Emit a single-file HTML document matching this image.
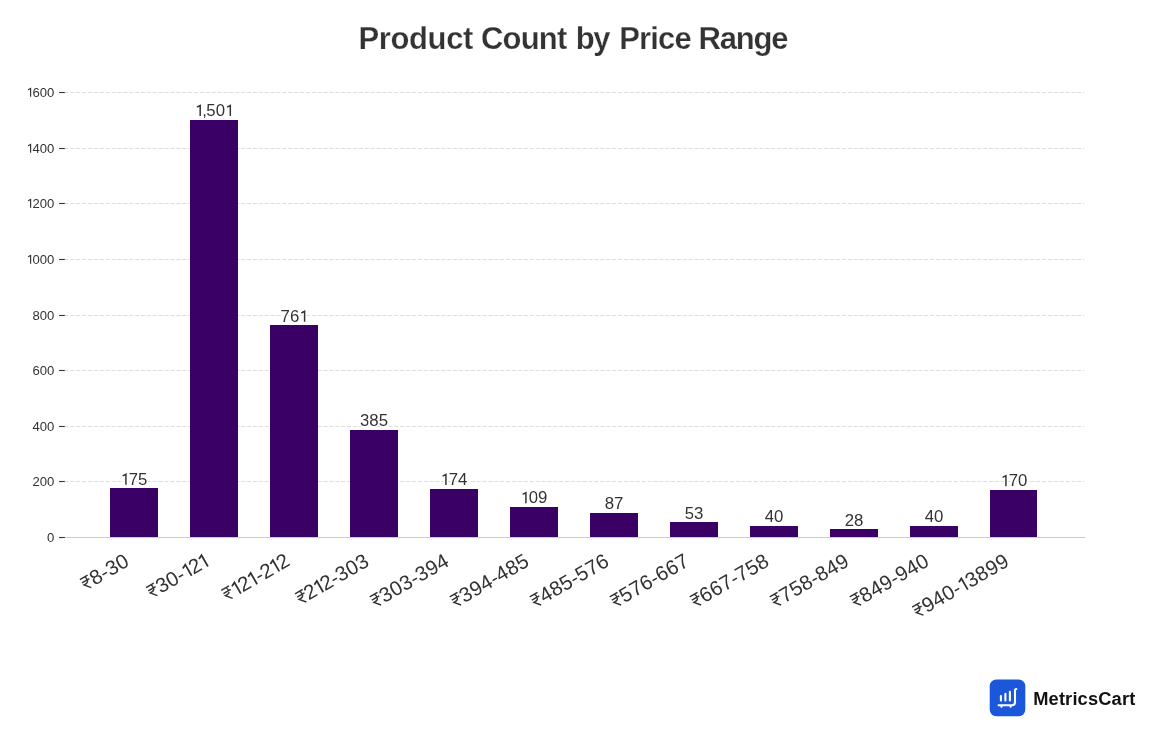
<!DOCTYPE html>
<html><head><meta charset="utf-8"><style>
html,body{margin:0;padding:0;background:#fff;}
body{width:1168px;height:746px;overflow:hidden;}
svg{display:block;will-change:transform;}
text{font-family:"Liberation Sans",sans-serif;}
</style></head><body>
<svg width="1168" height="746" viewBox="0 0 1168 746">
<defs>
<path id="rup" d="M0 -618 H434 M12 -428 H425 M230 -618 C300 -618 302 -520 300 -430 C297 -320 230 -275 44 -285 L285 0" fill="none" stroke="#333333" stroke-width="70" stroke-linecap="butt" stroke-linejoin="miter"/>
<path id="one" d="M-120 -530 L75 -628 V0" fill="none" stroke-linecap="butt" stroke-linejoin="miter"/>
</defs>
<rect width="1168" height="746" fill="#fff"/>

<text x="358.60" y="48.8" font-size="31.0" font-weight="bold" fill="#333333" stroke="#fff" stroke-width="0.25" letter-spacing="-0.4">Product</text>
<text x="481.00" y="48.8" font-size="31.0" font-weight="bold" fill="#333333" stroke="#fff" stroke-width="0.25" letter-spacing="-0.8">Count</text>
<text x="575.80" y="48.8" font-size="31.0" font-weight="bold" fill="#333333" stroke="#fff" stroke-width="0.25" letter-spacing="-1.4">by</text>
<text x="619.20" y="48.8" font-size="31.0" font-weight="bold" fill="#333333" stroke="#fff" stroke-width="0.25" letter-spacing="-0.85">Price</text>
<text x="698.60" y="48.8" font-size="31.0" font-weight="bold" fill="#333333" stroke="#fff" stroke-width="0.25" letter-spacing="-1.18">Range</text>
<line x1="64.4" y1="481.50" x2="1084.4" y2="481.50" stroke="#dddddd" stroke-width="1.1" stroke-dasharray="4.111 1.778"/>
<line x1="64.4" y1="426.50" x2="1084.4" y2="426.50" stroke="#dddddd" stroke-width="1.1" stroke-dasharray="4.111 1.778"/>
<line x1="64.4" y1="370.50" x2="1084.4" y2="370.50" stroke="#dddddd" stroke-width="1.1" stroke-dasharray="4.111 1.778"/>
<line x1="64.4" y1="315.50" x2="1084.4" y2="315.50" stroke="#dddddd" stroke-width="1.1" stroke-dasharray="4.111 1.778"/>
<line x1="64.4" y1="259.50" x2="1084.4" y2="259.50" stroke="#dddddd" stroke-width="1.1" stroke-dasharray="4.111 1.778"/>
<line x1="64.4" y1="203.50" x2="1084.4" y2="203.50" stroke="#dddddd" stroke-width="1.1" stroke-dasharray="4.111 1.778"/>
<line x1="64.4" y1="148.50" x2="1084.4" y2="148.50" stroke="#dddddd" stroke-width="1.1" stroke-dasharray="4.111 1.778"/>
<line x1="64.4" y1="92.50" x2="1084.4" y2="92.50" stroke="#dddddd" stroke-width="1.1" stroke-dasharray="4.111 1.778"/>
<rect x="64.0" y="537" width="1021.2" height="1" fill="#cccccc"/>
<line x1="59.1" y1="537.50" x2="64.8" y2="537.50" stroke="#333333" stroke-width="1.1"/>
<text x="47.01" y="541.70" font-size="13.1" fill="#333333">0</text>
<line x1="59.1" y1="481.50" x2="64.8" y2="481.50" stroke="#333333" stroke-width="1.1"/>
<text x="32.44 39.73 47.01" y="485.70" font-size="13.1" fill="#333333">200</text>
<line x1="59.1" y1="426.50" x2="64.8" y2="426.50" stroke="#333333" stroke-width="1.1"/>
<text x="32.44 39.73 47.01" y="430.70" font-size="13.1" fill="#333333">400</text>
<line x1="59.1" y1="370.50" x2="64.8" y2="370.50" stroke="#333333" stroke-width="1.1"/>
<text x="32.44 39.73 47.01" y="374.70" font-size="13.1" fill="#333333">600</text>
<line x1="59.1" y1="315.50" x2="64.8" y2="315.50" stroke="#333333" stroke-width="1.1"/>
<text x="32.44 39.73 47.01" y="319.70" font-size="13.1" fill="#333333">800</text>
<line x1="59.1" y1="259.50" x2="64.8" y2="259.50" stroke="#333333" stroke-width="1.1"/>
<text x="32.44 39.73 47.01" y="263.70" font-size="13.1" fill="#333333">000</text><use href="#one" transform="translate(29.63,263.70) scale(0.01310)" stroke="#333333" stroke-width="88"/>
<line x1="59.1" y1="203.50" x2="64.8" y2="203.50" stroke="#333333" stroke-width="1.1"/>
<text x="32.44 39.73 47.01" y="207.70" font-size="13.1" fill="#333333">200</text><use href="#one" transform="translate(29.63,207.70) scale(0.01310)" stroke="#333333" stroke-width="88"/>
<line x1="59.1" y1="148.50" x2="64.8" y2="148.50" stroke="#333333" stroke-width="1.1"/>
<text x="32.44 39.73 47.01" y="152.70" font-size="13.1" fill="#333333">400</text><use href="#one" transform="translate(29.63,152.70) scale(0.01310)" stroke="#333333" stroke-width="88"/>
<line x1="59.1" y1="92.50" x2="64.8" y2="92.50" stroke="#333333" stroke-width="1.1"/>
<text x="32.44 39.73 47.01" y="96.70" font-size="13.1" fill="#333333">600</text><use href="#one" transform="translate(29.63,96.70) scale(0.01310)" stroke="#333333" stroke-width="88"/>
<rect x="110" y="488" width="48" height="49" fill="#3b0066"/>
<rect x="190" y="120" width="48" height="417" fill="#3b0066"/>
<rect x="270" y="325" width="48" height="212" fill="#3b0066"/>
<rect x="350" y="430" width="48" height="107" fill="#3b0066"/>
<rect x="430" y="489" width="48" height="48" fill="#3b0066"/>
<rect x="510" y="507" width="48" height="30" fill="#3b0066"/>
<rect x="590" y="513" width="48" height="24" fill="#3b0066"/>
<rect x="670" y="522" width="48" height="15" fill="#3b0066"/>
<rect x="750" y="526" width="48" height="11" fill="#3b0066"/>
<rect x="830" y="529" width="48" height="8" fill="#3b0066"/>
<rect x="910" y="526" width="48" height="11" fill="#3b0066"/>
<rect x="990" y="490" width="47" height="47" fill="#3b0066"/>
<use href="#one" transform="translate(124.66,484.83) scale(0.01680)" stroke="#fff" stroke-width="267" stroke-linejoin="round"/><text x="128.69 138.03" y="484.83" font-size="16.8" fill="#333333" stroke="#fff" stroke-width="3" paint-order="stroke" stroke-linejoin="round">75</text><use href="#one" transform="translate(124.66,484.83) scale(0.01680)" stroke="#333333" stroke-width="88"/>
<use href="#one" transform="translate(198.94,116.07) scale(0.01680)" stroke="#fff" stroke-width="267" stroke-linejoin="round"/><use href="#one" transform="translate(229.06,116.07) scale(0.01680)" stroke="#fff" stroke-width="267" stroke-linejoin="round"/><text x="202.32 206.34 215.68" y="116.07" font-size="16.8" fill="#333333" stroke="#fff" stroke-width="3" paint-order="stroke" stroke-linejoin="round">,50</text><use href="#one" transform="translate(198.94,116.07) scale(0.01680)" stroke="#333333" stroke-width="88"/><use href="#one" transform="translate(229.06,116.07) scale(0.01680)" stroke="#333333" stroke-width="88"/>
<use href="#one" transform="translate(303.34,321.87) scale(0.01680)" stroke="#fff" stroke-width="267" stroke-linejoin="round"/><text x="280.62 289.97" y="321.87" font-size="16.8" fill="#333333" stroke="#fff" stroke-width="3" paint-order="stroke" stroke-linejoin="round">76</text><use href="#one" transform="translate(303.34,321.87) scale(0.01680)" stroke="#333333" stroke-width="88"/>
<text x="359.98 369.33 378.67" y="426.43" font-size="16.8" fill="#333333" stroke="#fff" stroke-width="3" paint-order="stroke" stroke-linejoin="round">385</text>
<use href="#one" transform="translate(444.66,485.11) scale(0.01680)" stroke="#fff" stroke-width="267" stroke-linejoin="round"/><text x="448.69 458.03" y="485.11" font-size="16.8" fill="#333333" stroke="#fff" stroke-width="3" paint-order="stroke" stroke-linejoin="round">74</text><use href="#one" transform="translate(444.66,485.11) scale(0.01680)" stroke="#333333" stroke-width="88"/>
<use href="#one" transform="translate(524.66,503.19) scale(0.01680)" stroke="#fff" stroke-width="267" stroke-linejoin="round"/><text x="528.69 538.03" y="503.19" font-size="16.8" fill="#333333" stroke="#fff" stroke-width="3" paint-order="stroke" stroke-linejoin="round">09</text><use href="#one" transform="translate(524.66,503.19) scale(0.01680)" stroke="#333333" stroke-width="88"/>
<text x="604.66 614.00" y="509.31" font-size="16.8" fill="#333333" stroke="#fff" stroke-width="3" paint-order="stroke" stroke-linejoin="round">87</text>
<text x="684.66 694.00" y="518.76" font-size="16.8" fill="#333333" stroke="#fff" stroke-width="3" paint-order="stroke" stroke-linejoin="round">53</text>
<text x="764.66 774.00" y="522.38" font-size="16.8" fill="#333333" stroke="#fff" stroke-width="3" paint-order="stroke" stroke-linejoin="round">40</text>
<text x="844.66 854.00" y="525.71" font-size="16.8" fill="#333333" stroke="#fff" stroke-width="3" paint-order="stroke" stroke-linejoin="round">28</text>
<text x="924.66 934.00" y="522.38" font-size="16.8" fill="#333333" stroke="#fff" stroke-width="3" paint-order="stroke" stroke-linejoin="round">40</text>
<use href="#one" transform="translate(1004.66,486.22) scale(0.01680)" stroke="#fff" stroke-width="267" stroke-linejoin="round"/><text x="1008.69 1018.03" y="486.22" font-size="16.8" fill="#333333" stroke="#fff" stroke-width="3" paint-order="stroke" stroke-linejoin="round">70</text><use href="#one" transform="translate(1004.66,486.22) scale(0.01680)" stroke="#333333" stroke-width="88"/>
<g transform="translate(130.40,565.00) rotate(-30)"><use href="#rup" transform="translate(-51.03,0) scale(0.0205)"/><text x="-41.50 -30.01 -23.09 -11.50" y="0.00" font-size="20.5" fill="#333333">8-30</text></g>
<g transform="translate(210.40,565.00) rotate(-30)"><use href="#rup" transform="translate(-66.97,0) scale(0.0205)"/><text x="-57.44 -45.85 -34.36 -19.47" y="0.00" font-size="20.5" fill="#333333">30-2</text><use href="#one" transform="translate(-23.15,0.00) scale(0.02050)" stroke="#333333" stroke-width="88"/><use href="#one" transform="translate(-4.39,0.00) scale(0.02050)" stroke="#333333" stroke-width="88"/></g>
<g transform="translate(290.40,565.00) rotate(-30)"><use href="#rup" transform="translate(-72.54,0) scale(0.0205)"/><text x="-55.04 -35.58 -29.46 -10.70" y="0.00" font-size="20.5" fill="#333333">2-22</text><use href="#one" transform="translate(-58.72,0.00) scale(0.02050)" stroke="#333333" stroke-width="88"/><use href="#one" transform="translate(-39.96,0.00) scale(0.02050)" stroke="#333333" stroke-width="88"/><use href="#one" transform="translate(-14.37,0.00) scale(0.02050)" stroke="#333333" stroke-width="88"/></g>
<g transform="translate(370.40,565.00) rotate(-30)"><use href="#rup" transform="translate(-79.78,0) scale(0.0205)"/><text x="-71.05 -52.29 -41.60 -34.68 -23.09 -11.50" y="0.00" font-size="20.5" fill="#333333">22-303</text><use href="#one" transform="translate(-55.97,0.00) scale(0.02050)" stroke="#333333" stroke-width="88"/></g>
<g transform="translate(450.40,565.00) rotate(-30)"><use href="#rup" transform="translate(-85.80,0) scale(0.0205)"/><text x="-76.27 -64.68 -53.09 -41.60 -34.68 -23.09 -11.50" y="0.00" font-size="20.5" fill="#333333">303-394</text></g>
<g transform="translate(530.40,565.00) rotate(-30)"><use href="#rup" transform="translate(-85.80,0) scale(0.0205)"/><text x="-76.27 -64.68 -53.09 -41.60 -34.68 -23.09 -11.50" y="0.00" font-size="20.5" fill="#333333">394-485</text></g>
<g transform="translate(610.40,565.00) rotate(-30)"><use href="#rup" transform="translate(-85.80,0) scale(0.0205)"/><text x="-76.27 -64.68 -53.09 -41.60 -34.68 -23.09 -11.50" y="0.00" font-size="20.5" fill="#333333">485-576</text></g>
<g transform="translate(690.40,565.00) rotate(-30)"><use href="#rup" transform="translate(-85.80,0) scale(0.0205)"/><text x="-76.27 -64.68 -53.09 -41.60 -34.68 -23.09 -11.50" y="0.00" font-size="20.5" fill="#333333">576-667</text></g>
<g transform="translate(770.40,565.00) rotate(-30)"><use href="#rup" transform="translate(-85.80,0) scale(0.0205)"/><text x="-76.27 -64.68 -53.09 -41.60 -34.68 -23.09 -11.50" y="0.00" font-size="20.5" fill="#333333">667-758</text></g>
<g transform="translate(850.40,565.00) rotate(-30)"><use href="#rup" transform="translate(-85.80,0) scale(0.0205)"/><text x="-76.27 -64.68 -53.09 -41.60 -34.68 -23.09 -11.50" y="0.00" font-size="20.5" fill="#333333">758-849</text></g>
<g transform="translate(930.40,565.00) rotate(-30)"><use href="#rup" transform="translate(-85.80,0) scale(0.0205)"/><text x="-76.27 -64.68 -53.09 -41.60 -34.68 -23.09 -11.50" y="0.00" font-size="20.5" fill="#333333">849-940</text></g>
<g transform="translate(1010.40,565.00) rotate(-30)"><use href="#rup" transform="translate(-106.16,0) scale(0.0205)"/><text x="-96.63 -85.04 -73.45 -61.96 -46.27 -34.68 -23.09 -11.50" y="0.00" font-size="20.5" fill="#333333">940-3899</text><use href="#one" transform="translate(-50.74,0.00) scale(0.02050)" stroke="#333333" stroke-width="88"/></g>
<rect x="989.7" y="679.6" width="35.6" height="36.6" rx="6.5" fill="#1b57db"/>
<g fill="none" stroke="#fff" stroke-width="2.1" stroke-linecap="round" stroke-linejoin="round">
<path d="M1000.9 696 V700.5"/>
<path d="M1005.4 693.9 V700.5"/>
<path d="M1009.9 691.8 V700.5"/>
<path d="M998.6 705.2 H1012 Q1015 705.2 1015 702.2 V690 Q1015 689 1016.3 689"/>
</g>
<circle cx="1001.5" cy="706.7" r="1.1" fill="#fff"/>
<circle cx="1010.6" cy="706.7" r="1.1" fill="#fff"/>
<text x="1033.2" y="704.7" font-size="18.3" font-weight="bold" fill="#111" letter-spacing="0.15">MetricsCart</text>

</svg></body></html>
